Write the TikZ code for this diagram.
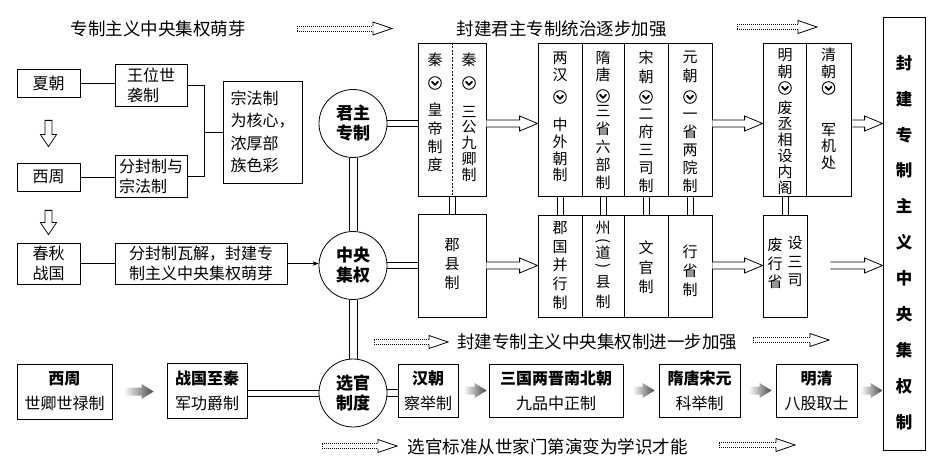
\documentclass[tikz,border=0pt]{standalone}
\usepackage{fontspec}
\setmainfont{Noto Sans CJK SC}
\usetikzlibrary{calc,arrows.meta,backgrounds}
\newcommand\myfs[2]{\fontsize{#1pt}{#2pt}\selectfont}
\newcommand\sq{\vphantom{国}}
% hollow block arrow (horizontal): #1 start, #2 end, #3 start gap
\newcommand\harr[3]{\draw[line width=0.8pt, fill=white] let \p1=(#1), \p2=(#2) in
 ({\x1+#3},{\y1+3.5pt}) -- ({\x2-18pt},{\y1+3.5pt}) -- ({\x2-18pt},{\y1+7.5pt}) -- (\x2,\y1)
 -- ({\x2-18pt},{\y1-7.5pt}) -- ({\x2-18pt},{\y1-3.5pt}) -- ({\x1+#3},{\y1-3.5pt});}
% hollow block arrow (downward): #1 start, #2 end, #3 top gap, #4 bottom gap
\newcommand\varr[4]{\draw[line width=0.8pt, fill=white] let \p1=(#1), \p2=(#2) in
 ({\x1-3.5pt},{\y1-#3}) -- ({\x1-3.5pt},{\y2+#4+12pt}) -- ({\x1-8pt},{\y2+#4+12pt}) -- (\x1,{\y2+#4})
 -- ({\x1+8pt},{\y2+#4+12pt}) -- ({\x1+3.5pt},{\y2+#4+12pt}) -- ({\x1+3.5pt},{\y1-#3}) -- cycle;}
% grey shaded arrow: #1 start, #2 end, #3 start gap, #4 end gap
\newcommand\garr[4]{\shade[left color=white, right color=black!72] let \p1=(#1), \p2=(#2) in
 ({\x1+#3},{\y1+4pt}) -- ({\x2-#4-12pt},{\y1+4pt}) -- ({\x2-#4-12pt},{\y1+7.5pt}) -- ({\x2-#4},\y1)
 -- ({\x2-#4-12pt},{\y1-7.5pt}) -- ({\x2-#4-12pt},{\y1-4pt}) -- ({\x1+#3},{\y1-4pt}) -- cycle;}
% dotted hollow arrow: #1 x start, #2 x end, #3 y
\newcommand\dotarr[3]{%
 \draw[line width=0.7pt, dash pattern=on 1pt off 1pt] (#1,#3-2.5) -- (#2-19,#3-2.5) (#1,#3+2.5) -- (#2-19,#3+2.5) (#1,#3-2.5) -- (#1,#3+2.5);
 \draw[line width=0.8pt, line join=miter] (#2-19,#3-2.5) -- (#2-19,#3-6.5) -- (#2,#3) -- (#2-19,#3+6.5) -- (#2-19,#3+2.5);}
% double connectors: #1 start, #2 end, #3 half gap
\newcommand\dblh[3]{\draw[line width=0.7pt] let \p1=(#1), \p2=(#2) in
 (\x1,{\y1+#3}) -- (\x2,{\y1+#3}) (\x1,{\y1-#3}) -- (\x2,{\y1-#3});}
\newcommand\dblv[3]{\draw[line width=0.7pt] let \p1=(#1), \p2=(#2) in
 ({\x1+#3},\y1) -- ({\x1+#3},\y2) ({\x1-#3},\y1) -- ({\x1-#3},\y2);}
% circled chevron mark
\newcommand\vm[2]{%
 \draw[line width=0.9pt] (#1,#2) circle (6.3pt);
 \draw[line width=1.9pt, line cap=round, line join=round] (#1-3,#2-1.2) -- (#1,#2+1.9) -- (#1+3,#2-1.2);}
\begin{document}
\begin{tikzpicture}[x=1pt,y=-1pt, line width=0.8pt,
  box/.style={draw, inner sep=0pt, align=left, font=\myfs{16}{20}},
  boxb/.style={draw, inner sep=0pt, align=center, font=\myfs{16}{25}},
  colbox/.style={draw, inner sep=0pt},
  circ/.style={draw, circle, minimum size=68pt, inner sep=0pt, align=center, font=\bfseries\myfs{17}{20}},
  captxt/.style={inner sep=0pt, font=\myfs{17.5}{20}},
  vt/.style={inner sep=0pt, align=center}]
\useasboundingbox (0,0) rectangle (938,468);

% captions
\node[captxt] (t1) at (158,29) {专制主义中央集权萌芽};
\node[captxt] (t2) at (561.5,29) {封建君主专制统治逐步加强};
\node[captxt] (t3) at (597,342) {封建专制主义中央集权制进一步加强};
\node[captxt] (t4) at (547.5,447) {选官标准从世家门第演变为学识才能};
\dotarr{297}{392}{28.5}
\dotarr{737}{817}{27}
\dotarr{374}{448}{342}
\dotarr{753}{829}{340}
\dotarr{322}{397}{446}
\dotarr{719}{795}{445}

% left part
\node[box, minimum width=63pt, minimum height=28pt] (xia) at (48.5,83) {夏朝};
\node[box, minimum width=72pt, minimum height=42pt] (wwsx) at (151,85) {王位世\\袭制};
\node[box, minimum width=63pt, minimum height=28pt] (xz1) at (48.5,177) {西周};
\node[box, minimum width=72pt, minimum height=42pt] (ffz) at (151,176) {分封制与\\宗法制};
\node[box, minimum width=79pt, minimum height=102pt, font=\myfs{16}{22.4}] (zfz) at (262.5,132) {宗法制\\为核心，\\浓厚部\\族色彩};
\node[box, align=center, minimum width=63pt, minimum height=41pt] (cq) at (48.5,263.5) {春秋\\战国};
\node[box, minimum width=172pt, minimum height=41pt] (ffwj) at (201,263.5) {分封制瓦解，封建专\\制主义中央集权萌芽};
\coordinate (br) at (204,132);

% circles
\node[circ] (jz) at (353,123.5) {君主\\专制};
\node[circ] (zy) at (353,265.5) {中央\\集权};
\node[circ] (xg) at (353,393) {选官\\制度};

% top row
\node[colbox, minimum width=68pt, minimum height=153pt] (qin) at (452,119.5) {};
\node[colbox, minimum width=44pt, minimum height=153pt] (han) at (560,119.5) {};
\node[colbox, minimum width=42pt, minimum height=153pt] (sui) at (603,119.5) {};
\node[colbox, minimum width=44pt, minimum height=153pt] (song) at (646,119.5) {};
\node[colbox, minimum width=44pt, minimum height=153pt] (yuan) at (690,119.5) {};
\node[colbox, minimum width=43pt, minimum height=153pt] (ming) at (784.5,119.5) {};
\node[colbox, minimum width=45pt, minimum height=153pt] (qing) at (828.5,119.5) {};
\draw[dash pattern=on 2pt off 1.5pt, line width=0.7pt] (qin.north) -- (qin.south);

% bottom row
\node[colbox, minimum width=68pt, minimum height=103pt] (jx) at (452,265.5) {};
\node[colbox, minimum width=44pt, minimum height=102pt] (jg) at (560,266) {};
\node[colbox, minimum width=42pt, minimum height=102pt] (zd) at (603,266) {};
\node[colbox, minimum width=44pt, minimum height=102pt] (wg) at (646,266) {};
\node[colbox, minimum width=44pt, minimum height=102pt] (xs) at (690,266) {};
\node[colbox, minimum width=44pt, minimum height=102pt] (fei) at (785,266) {};

% big right box
\node[colbox, minimum width=42pt, minimum height=433pt] (fj) at (904,233.5) {};
\node[vt, font=\bfseries\myfs{16.5}{35.9}] (fjt) at (904,242.5) {封\\建\\专\\制\\主\\义\\中\\央\\集\\权\\制};

% vertical texts, top row
\node[vt, font=\myfs{15}{17}] (q1a) at (435,60) {秦};
\node[vt, font=\myfs{15}{17}] (q2a) at (469,60) {秦};
\node[vt, font=\myfs{15}{18.3}] (q1b) at (435,137.5) {皇\\帝\\制\\度};
\node[vt, font=\myfs{15}{15.9}] (q2b) at (469,143.5) {\sq 三\\公\\九\\卿\\制};
\node[vt, font=\myfs{15}{17}] (h1) at (560,66.5) {两\\汉};
\node[vt, font=\myfs{15}{16.7}] (h2) at (560,150) {中\\外\\朝\\制};
\node[vt, font=\myfs{15}{16.5}] (s1) at (603,66.5) {隋\\唐};
\node[vt, font=\myfs{15}{18}] (s2) at (603,147) {\sq 三\\省\\六\\部\\制};
\node[vt, font=\myfs{15}{19}] (so1) at (646,67) {宋\\朝};
\node[vt, font=\myfs{15}{18}] (so2) at (646,150) {\sq 二\\府\\三\\司\\制};
\node[vt, font=\myfs{15}{19}] (y1) at (690,67) {元\\朝};
\node[vt, font=\myfs{15}{18}] (y2) at (690,150) {\sq 一\\省\\两\\院\\制};
\node[vt, font=\myfs{15}{17}] (m1) at (785,63.5) {明\\朝};
\node[vt, font=\myfs{15}{16}] (m2) at (785,148) {废\\丞\\相\\设\\内\\阁};
\node[vt, font=\myfs{15}{17}] (qi1) at (828.5,63.5) {清\\朝};
\node[vt, font=\myfs{15}{16.5}] (qi2) at (828.5,146.5) {军\\机\\处};
\vm{435}{83}\vm{469}{83}\vm{560}{97}\vm{603}{96}\vm{646}{97}\vm{690}{97}\vm{785}{88}\vm{828.5}{88}

% vertical texts, bottom row
\node[vt, font=\myfs{15}{19}] (jxt) at (452,264) {郡\\县\\制};
\node[vt, font=\myfs{15}{18.75}] (jgt) at (560,265.5) {郡\\国\\并\\行\\制};
\node[vt, font=\myfs{15}{17}] (zd1) at (603,228) {州};
\node[vt, font=\myfs{15}{17}, rotate=-90] (zd2) at (603,241) {(};
\node[vt, font=\myfs{15}{17}] (zd3) at (603,253) {道};
\node[vt, font=\myfs{15}{17}, rotate=-90] (zd4) at (603,266) {)};
\node[vt, font=\myfs{15}{20}] (zd5) at (603,292) {县\\制};
\node[vt, font=\myfs{15}{19.5}] (wgt) at (646,267.5) {文\\官\\制};
\node[vt, font=\myfs{15}{19}] (xst) at (690,271) {行\\省\\制};
\node[vt, font=\myfs{15}{18.5}] (fei1) at (775,263.5) {废\\行\\省};
\node[vt, font=\myfs{15}{18.5}] (fei2) at (795,261.5) {设\\三\\司};

% selection row
\node[boxb, minimum width=95pt, minimum height=55pt] (xz2) at (64.5,391.5) {\textbf{西周}\\世卿世禄制};
\node[boxb, minimum width=80pt, minimum height=55pt] (zqz) at (207,390.5) {\textbf{战国至秦}\\军功爵制};
\node[boxb, minimum width=60pt, minimum height=53pt] (hc) at (428,390.5) {\textbf{汉朝}\\察举制};
\node[boxb, minimum width=134pt, minimum height=53pt] (sg) at (556,390.5) {\textbf{三国两晋南北朝}\\九品中正制};
\node[boxb, minimum width=81pt, minimum height=53pt] (st) at (699.5,390.5) {\textbf{隋唐宋元}\\科举制};
\node[boxb, minimum width=81pt, minimum height=53pt] (mq) at (816.5,390.5) {\textbf{明清}\\八股取士};

% connectors
\draw (xia.east) -- (xia.east -| wwsx.west);
\draw (xz1.east) -- (xz1.east -| ffz.west);
\draw (wwsx.east) -| (br);
\draw (ffz.east) -| (br);
\draw (br) -- (br -| zfz.west);
\draw (cq.east) -- (cq.east -| ffwj.west);
\draw[-{Stealth[length=6pt,width=4.5pt]}] (ffwj.east) -- (zy.west |- ffwj.east);
\dblh{jz.east}{qin.west}{3.2pt}
\dblh{zy.east}{jx.west}{3.2pt}
\dblh{xg.east}{hc.west}{3.2pt}
\dblh{xg.west}{zqz.east}{3pt}
\dblv{jz.south}{zy.north}{4pt}
\dblv{zy.south}{xg.north}{4pt}
\dblv{qin.south}{jx.north}{3pt}
\dblv{han.south}{jg.north}{3pt}
\dblv{sui.south}{zd.north}{3pt}
\dblv{song.south}{wg.north}{3pt}
\dblv{yuan.south}{xs.north}{3pt}
\dblv{fei.north |- ming.south}{fei.north}{3pt}

\varr{xia.south}{xz1.north}{23pt}{16pt}
\varr{xz1.south}{cq.north}{19pt}{8pt}
\harr{qin.east |- jz.east}{han.west}{0pt}
\harr{jx.east |- zy.east}{jg.west}{0pt}
\harr{yuan.east |- jz.east}{ming.west}{0pt}
\harr{xs.east |- zy.east}{fei.west}{0pt}
\harr{qing.east |- jz.east}{fj.west}{1pt}
\harr{fei.east |- zy.east}{fj.west}{23pt}
\garr{xz2.east}{zqz.west}{11pt}{13pt}
\garr{hc.east}{sg.west}{5pt}{2pt}
\garr{sg.east}{st.west}{9pt}{4pt}
\garr{st.east}{mq.west}{8pt}{4pt}
\garr{mq.east}{fj.west}{3pt}{0pt}
\end{tikzpicture}
\end{document}
